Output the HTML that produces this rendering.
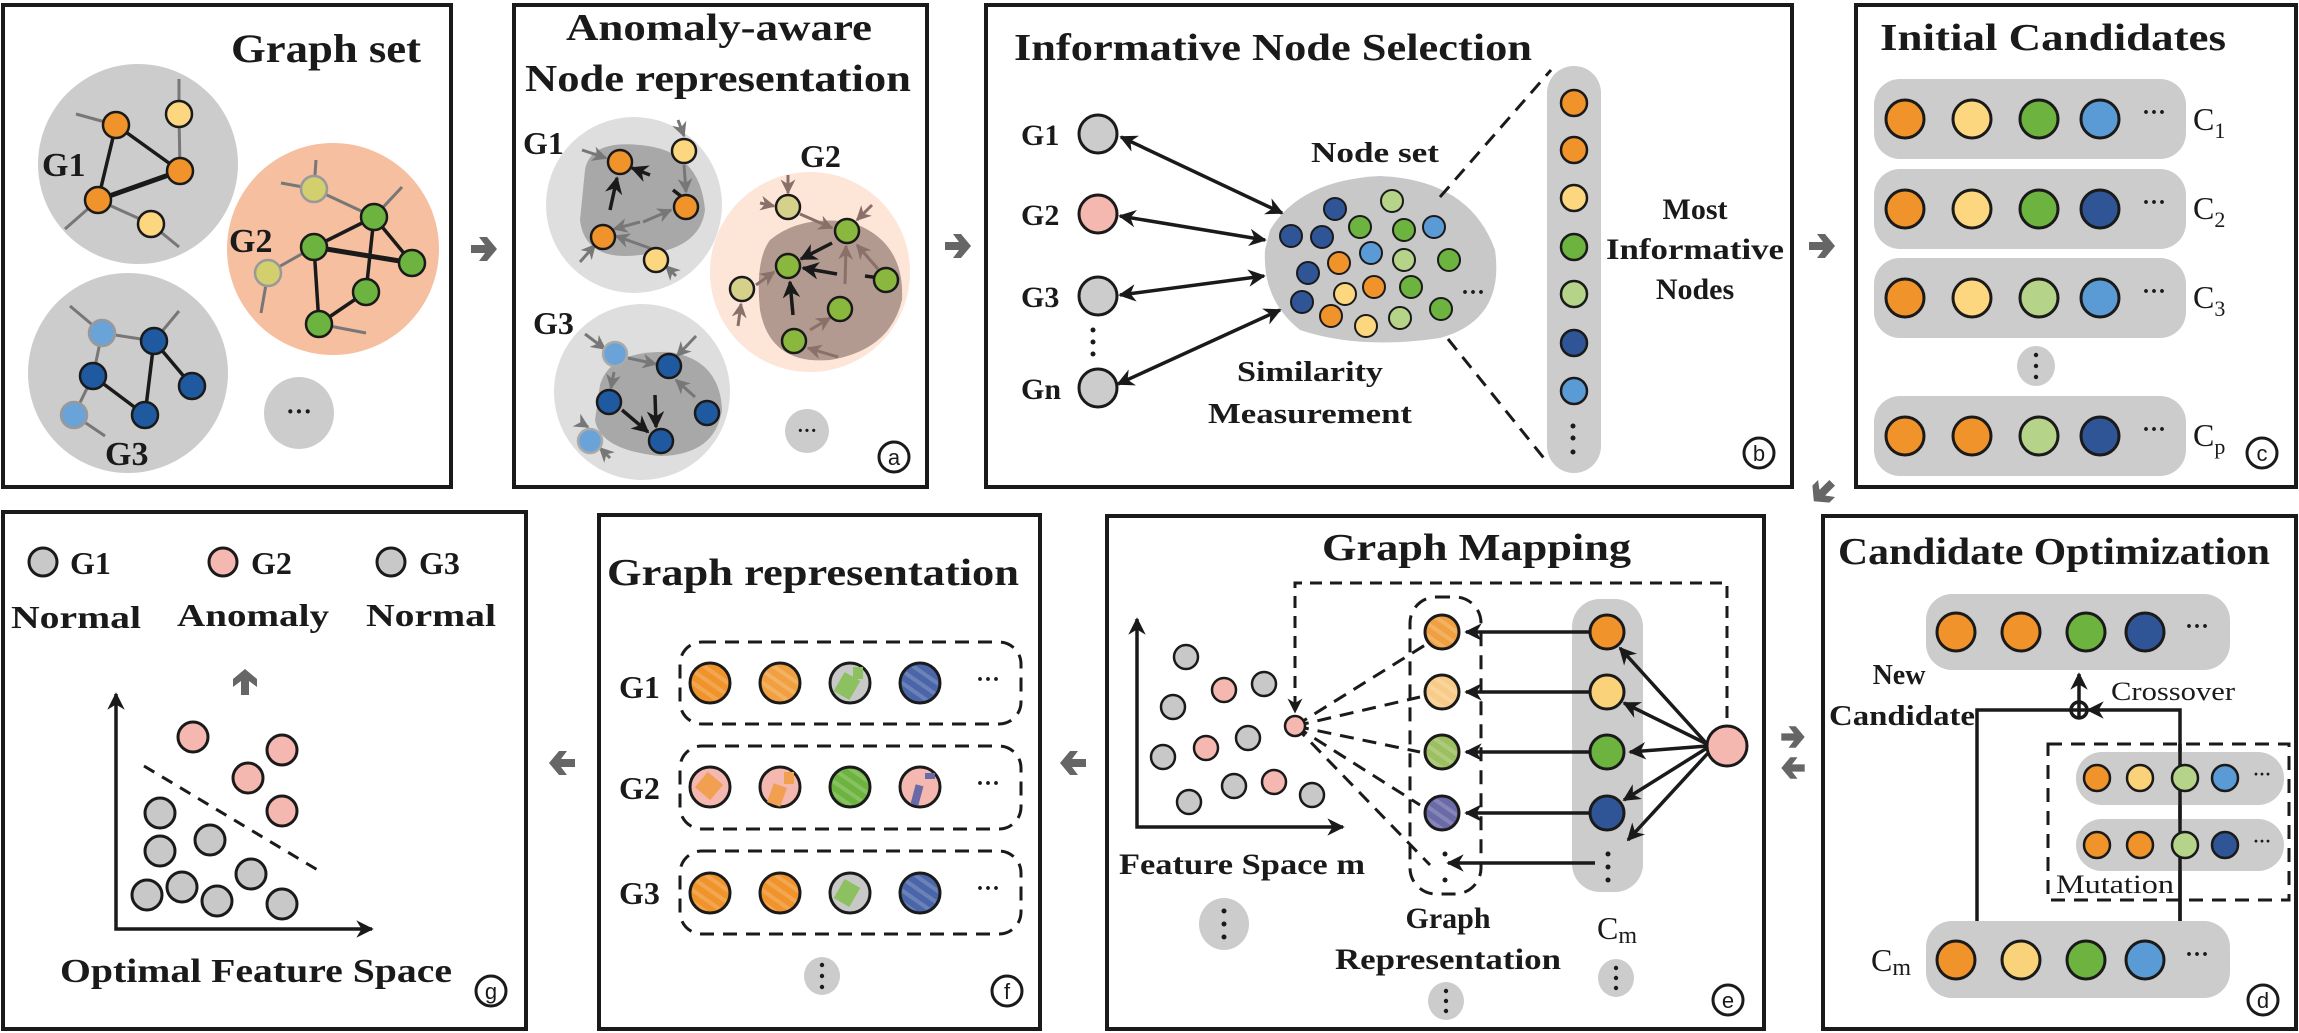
<!DOCTYPE html>
<html><head><meta charset="utf-8"><style>
html,body{margin:0;padding:0;background:#fff;}
svg{display:block;}
text{font-family:"Liberation Serif",serif;font-weight:bold;fill:#1a1a1a;}
</style></head><body>
<svg width="2299" height="1033" viewBox="0 0 2299 1033" xmlns="http://www.w3.org/2000/svg">
<defs>
<marker id="ah" viewBox="0 0 10 10" refX="9" refY="5" markerWidth="5" markerHeight="5" orient="auto-start-reverse"><path d="M0,0 L10,5 L0,10 L3,5Z" fill="#1a1a1a"/></marker>
<marker id="ahg" viewBox="0 0 10 10" refX="9" refY="5" markerWidth="5" markerHeight="5" orient="auto"><path d="M0,0 L10,5 L0,10 L3,5Z" fill="#777"/></marker>
<marker id="ahb" viewBox="0 0 10 10" refX="9" refY="5" markerWidth="5" markerHeight="5" orient="auto"><path d="M0,0 L10,5 L0,10 L3,5Z" fill="#8a7068"/></marker>
<pattern id="hatch" width="10" height="10" patternUnits="userSpaceOnUse" patternTransform="rotate(35)"><rect width="10" height="4" fill="rgba(255,255,255,0.18)"/></pattern>
<path id="garrow" d="M-13,-4 L1,-4 L-5,-12 L3,-12 L13,0 L3,12 L-5,12 L1,4 L-13,4Z" fill="#666"/>
</defs>
<g stroke="#1a1a1a" stroke-width="4" fill="none">
<rect x="3" y="5" width="448" height="482"/>
<rect x="514" y="5" width="413" height="482"/>
<rect x="986" y="5" width="806" height="482"/>
<rect x="1856" y="5" width="440" height="482"/>
<rect x="3" y="512" width="523" height="517"/>
<rect x="599" y="515" width="441" height="514"/>
<rect x="1107" y="516" width="657" height="513"/>
<rect x="1823" y="516" width="473" height="513"/>
</g>
<!-- inter-panel arrows -->
<use href="#garrow" x="484" y="249"/>
<use href="#garrow" x="958" y="246"/>
<use href="#garrow" x="1822" y="246"/>
<use href="#garrow" transform="translate(1823,492) rotate(135)"/>
<use href="#garrow" transform="translate(1793,737) scale(0.9)"/>
<use href="#garrow" transform="translate(1793,768) rotate(180) scale(0.9)"/>
<use href="#garrow" transform="translate(1073,763) rotate(180)"/>
<use href="#garrow" transform="translate(562,763) rotate(180)"/>
<use href="#garrow" transform="translate(245,682) rotate(-90)"/>

<!-- Panel 1 -->
<text x="231" y="62" font-size="40" textLength="190" lengthAdjust="spacingAndGlyphs">Graph set</text>
<circle cx="138" cy="164" r="100" fill="#cbcccb"/>
<circle cx="333" cy="249" r="106" fill="#f5bfa0"/>
<circle cx="128" cy="373" r="100" fill="#cbcccb"/>
<ellipse cx="299" cy="413" rx="35" ry="36" fill="#cbcccb"/>
<text x="299" y="420" font-size="26" text-anchor="middle">···</text>
<g stroke="#777" stroke-width="3">
<line x1="116" y1="125" x2="76" y2="114"/><line x1="179" y1="114" x2="179" y2="79"/><line x1="179" y1="114" x2="180" y2="171"/>
<line x1="98" y1="200" x2="65" y2="229"/><line x1="98" y1="200" x2="151" y2="224"/><line x1="151" y1="224" x2="179" y2="247"/>
<line x1="314" y1="189" x2="374" y2="217"/><line x1="314" y1="189" x2="316" y2="160"/><line x1="314" y1="189" x2="281" y2="183"/>
<line x1="374" y1="217" x2="402" y2="187"/><line x1="268" y1="273" x2="314" y2="247"/><line x1="268" y1="273" x2="261" y2="313"/><line x1="319" y1="324" x2="366" y2="333"/>
<line x1="102" y1="333" x2="154" y2="341"/><line x1="102" y1="333" x2="93" y2="376"/><line x1="93" y1="376" x2="74" y2="415"/>
<line x1="102" y1="333" x2="70" y2="306"/><line x1="154" y1="341" x2="179" y2="311"/><line x1="74" y1="415" x2="105" y2="436"/>
</g>
<g stroke="#1a1a1a" stroke-width="3.5">
<line x1="116" y1="125" x2="98" y2="200"/><line x1="116" y1="125" x2="180" y2="171"/><line x1="98" y1="200" x2="180" y2="171" stroke-width="5"/>
<line x1="374" y1="217" x2="314" y2="247"/><line x1="374" y1="217" x2="412" y2="263"/><line x1="374" y1="217" x2="366" y2="292"/>
<line x1="314" y1="247" x2="412" y2="263" stroke-width="5"/><line x1="314" y1="247" x2="319" y2="324"/><line x1="366" y1="292" x2="319" y2="324"/>
<line x1="154" y1="341" x2="192" y2="386"/><line x1="154" y1="341" x2="145" y2="415"/><line x1="93" y1="376" x2="145" y2="415"/>
</g>
<g stroke="#1a1a1a" stroke-width="2.5">
<circle cx="116" cy="125" r="13" fill="#f0932b"/><circle cx="180" cy="171" r="13" fill="#f0932b"/><circle cx="98" cy="200" r="13" fill="#f0932b"/>
<circle cx="179" cy="114" r="13" fill="#fcd77f"/><circle cx="151" cy="224" r="13" fill="#fcd77f"/>
<circle cx="374" cy="217" r="13" fill="#6db33f"/><circle cx="314" cy="247" r="13" fill="#6db33f"/><circle cx="412" cy="263" r="13" fill="#6db33f"/><circle cx="366" cy="292" r="13" fill="#6db33f"/><circle cx="319" cy="324" r="13" fill="#6db33f"/>
<circle cx="154" cy="341" r="13" fill="#1f5aa0"/><circle cx="93" cy="376" r="13" fill="#1f5aa0"/><circle cx="192" cy="386" r="13" fill="#1f5aa0"/><circle cx="145" cy="415" r="13" fill="#1f5aa0"/>
</g>
<g stroke="#999" stroke-width="2.5">
<circle cx="314" cy="189" r="13" fill="#d4cf6e"/><circle cx="268" cy="273" r="13" fill="#d4cf6e"/>
<circle cx="102" cy="333" r="13" fill="#6aa3d8"/><circle cx="74" cy="415" r="13" fill="#6aa3d8"/>
</g>
<text x="42" y="176" font-size="34">G1</text>
<text x="229" y="252" font-size="34">G2</text>
<text x="105" y="465" font-size="34">G3</text>

<!-- Panel a -->
<text x="719" y="40" font-size="38" text-anchor="middle" textLength="306" lengthAdjust="spacingAndGlyphs">Anomaly-aware</text>
<text x="525" y="91" font-size="38" textLength="386" lengthAdjust="spacingAndGlyphs">Node representation</text>
<circle cx="634" cy="205" r="88" fill="#dedede"/>
<path d="M585,170 Q590,140 640,145 Q700,150 705,210 Q700,250 640,255 Q585,262 580,220Z" fill="#a8a8a8"/>
<circle cx="810" cy="272" r="100" fill="#fde5d8"/>
<path d="M770,240 Q800,215 850,222 Q905,240 902,300 Q890,350 830,360 Q770,365 760,310 Q755,260 770,240Z" fill="#b29a90"/>
<circle cx="642" cy="392" r="88" fill="#dedede"/>
<path d="M600,385 Q610,350 670,352 Q720,360 722,410 Q715,455 660,456 Q600,450 595,420Z" fill="#a8a8a8"/>
<g stroke="#777" stroke-width="3" marker-end="url(#ahg)">
<line x1="582" y1="150" x2="606" y2="158"/><line x1="678" y1="120" x2="684" y2="136"/><line x1="684" y1="165" x2="686" y2="192"/>
<line x1="643" y1="222" x2="671" y2="210"/><line x1="655" y1="250" x2="616" y2="236"/><line x1="640" y1="222" x2="614" y2="229"/>
<line x1="580" y1="262" x2="595" y2="245"/><line x1="676" y1="276" x2="666" y2="266"/>
<line x1="585" y1="334" x2="605" y2="349"/><line x1="696" y1="336" x2="677" y2="356"/><line x1="628" y1="358" x2="656" y2="364"/>
<line x1="614" y1="372" x2="611" y2="388"/><line x1="695" y1="397" x2="676" y2="380"/><line x1="583" y1="424" x2="588" y2="427"/><line x1="610" y1="458" x2="600" y2="448"/>
</g>
<g stroke="#8a7068" stroke-width="3" marker-end="url(#ahb)">
<line x1="788" y1="175" x2="788" y2="193"/><line x1="760" y1="203" x2="774" y2="206"/><line x1="800" y1="214" x2="832" y2="228"/>
<line x1="872" y1="205" x2="857" y2="220"/><line x1="845" y1="284" x2="846" y2="246"/><line x1="878" y1="269" x2="857" y2="245"/>
<line x1="756" y1="285" x2="774" y2="272"/><line x1="738" y1="326" x2="741" y2="304"/><line x1="810" y1="330" x2="830" y2="318"/><line x1="838" y1="357" x2="808" y2="348"/>
</g>
<g stroke="#1a1a1a" stroke-width="3.5" marker-end="url(#ahb)">
<line x1="610" y1="210" x2="617" y2="178" marker-end="url(#ah)"/><line x1="650" y1="175" x2="632" y2="168" marker-end="url(#ah)"/>
<line x1="832" y1="243" x2="801" y2="259" marker-end="url(#ah)"/><line x1="837" y1="274" x2="803" y2="268" marker-end="url(#ah)"/><line x1="793" y1="315" x2="790" y2="282" marker-end="url(#ah)"/>
<line x1="655" y1="395" x2="656" y2="427" marker-end="url(#ah)"/><line x1="622" y1="410" x2="648" y2="432" marker-end="url(#ah)"/>
</g>
<line x1="673" y1="190" x2="686" y2="200" stroke="#1a1a1a" stroke-width="3.5"/>
<line x1="865" y1="276" x2="880" y2="278" stroke="#1a1a1a" stroke-width="3.5"/>
<g stroke="#1a1a1a" stroke-width="2.5">
<circle cx="620" cy="162" r="12" fill="#f0932b"/><circle cx="686" cy="207" r="12" fill="#f0932b"/><circle cx="603" cy="237" r="12" fill="#f0932b"/>
<circle cx="684" cy="151" r="12" fill="#fcd77f"/><circle cx="656" cy="260" r="12" fill="#fcd77f"/>
<circle cx="847" cy="231" r="12" fill="#8ab83e"/><circle cx="788" cy="266" r="12" fill="#8ab83e"/><circle cx="886" cy="280" r="12" fill="#8ab83e"/><circle cx="840" cy="309" r="12" fill="#8ab83e"/><circle cx="794" cy="341" r="12" fill="#8ab83e"/>
<circle cx="788" cy="207" r="12" fill="#d6d18a"/><circle cx="742" cy="289" r="12" fill="#d6d18a"/>
<circle cx="669" cy="366" r="12" fill="#1f5aa0"/><circle cx="609" cy="402" r="12" fill="#1f5aa0"/><circle cx="707" cy="413" r="12" fill="#1f5aa0"/><circle cx="661" cy="441" r="12" fill="#1f5aa0"/>
</g>
<g stroke="#aaa" stroke-width="2.5"><circle cx="615" cy="354" r="12" fill="#6aa3d8"/><circle cx="590" cy="441" r="12" fill="#6aa3d8"/></g>
<text x="523" y="154" font-size="32">G1</text>
<text x="800" y="167" font-size="32">G2</text>
<text x="533" y="334" font-size="32">G3</text>
<circle cx="807" cy="431" r="22" fill="#cbcccb"/>
<text x="807" y="437" font-size="20" text-anchor="middle">···</text>
<circle cx="894" cy="457" r="15" fill="none" stroke="#1a1a1a" stroke-width="3"/>
<text x="894" y="465" font-size="22" text-anchor="middle" font-weight="normal" style="font-family:'Liberation Sans',sans-serif;font-weight:normal">a</text>

<!-- Panel b -->
<text x="1014" y="60" font-size="38" textLength="518" lengthAdjust="spacingAndGlyphs">Informative Node Selection</text>
<g stroke="#1a1a1a" stroke-width="3">
<circle cx="1098" cy="134" r="19" fill="#cbcccb"/><circle cx="1098" cy="214" r="19" fill="#f4b8b0"/>
<circle cx="1098" cy="296" r="19" fill="#cbcccb"/><circle cx="1098" cy="388" r="19" fill="#cbcccb"/>
</g>
<g fill="#1a1a1a"><circle cx="1093" cy="330" r="2.5"/><circle cx="1093" cy="342" r="2.5"/><circle cx="1093" cy="354" r="2.5"/></g>
<text x="1021" y="145" font-size="30">G1</text><text x="1021" y="225" font-size="30">G2</text>
<text x="1021" y="307" font-size="30">G3</text><text x="1021" y="399" font-size="30">Gn</text>
<path d="M1270,230 Q1300,180 1380,176 Q1470,180 1495,250 Q1505,320 1440,338 Q1360,350 1300,330 Q1262,300 1265,250Z" fill="#c8c8c8"/>
<g stroke="#1a1a1a" stroke-width="3.5" marker-start="url(#ah)" marker-end="url(#ah)">
<line x1="1121" y1="137" x2="1282" y2="213"/><line x1="1120" y1="216" x2="1265" y2="240"/>
<line x1="1120" y1="295" x2="1264" y2="276"/><line x1="1118" y1="384" x2="1280" y2="310"/>
</g>
<g stroke="#1a1a1a" stroke-width="3" stroke-dasharray="14,9">
<line x1="1440" y1="197" x2="1551" y2="70"/><line x1="1448" y1="339" x2="1547" y2="462"/>
</g>
<g stroke="#1a1a1a" stroke-width="2">
<circle cx="1335" cy="209" r="11" fill="#2f5597"/><circle cx="1392" cy="201" r="11" fill="#b5d48a"/>
<circle cx="1291" cy="236" r="11" fill="#2f5597"/><circle cx="1322" cy="237" r="11" fill="#2f5597"/>
<circle cx="1360" cy="227" r="11" fill="#6db33f"/><circle cx="1404" cy="230" r="11" fill="#6db33f"/>
<circle cx="1434" cy="227" r="11" fill="#5b9bd5"/><circle cx="1371" cy="253" r="11" fill="#5b9bd5"/>
<circle cx="1404" cy="260" r="11" fill="#b5d48a"/><circle cx="1449" cy="260" r="11" fill="#6db33f"/>
<circle cx="1308" cy="273" r="11" fill="#2f5597"/><circle cx="1339" cy="263" r="11" fill="#f0932b"/>
<circle cx="1345" cy="294" r="11" fill="#fcd77f"/><circle cx="1374" cy="287" r="11" fill="#f0932b"/>
<circle cx="1411" cy="287" r="11" fill="#6db33f"/><circle cx="1302" cy="302" r="11" fill="#2f5597"/>
<circle cx="1331" cy="316" r="11" fill="#f0932b"/><circle cx="1366" cy="326" r="11" fill="#fcd77f"/>
<circle cx="1400" cy="318" r="11" fill="#b5d48a"/><circle cx="1441" cy="309" r="11" fill="#6db33f"/>
</g>
<text x="1473" y="300" font-size="24" text-anchor="middle">···</text>
<text x="1375" y="162" font-size="28" text-anchor="middle" textLength="128" lengthAdjust="spacingAndGlyphs">Node set</text>
<text x="1310" y="381" font-size="28" text-anchor="middle" textLength="146" lengthAdjust="spacingAndGlyphs">Similarity</text>
<text x="1310" y="423" font-size="28" text-anchor="middle" textLength="204" lengthAdjust="spacingAndGlyphs">Measurement</text>
<rect x="1547" y="66" width="54" height="407" rx="27" fill="#cbcccb"/>
<g stroke="#1a1a1a" stroke-width="2.5">
<circle cx="1574" cy="103" r="13" fill="#f0932b"/><circle cx="1574" cy="150" r="13" fill="#f0932b"/>
<circle cx="1574" cy="198" r="13" fill="#fcd77f"/><circle cx="1574" cy="247" r="13" fill="#6db33f"/>
<circle cx="1574" cy="294" r="13" fill="#b5d48a"/><circle cx="1574" cy="343" r="13" fill="#2f5597"/>
<circle cx="1574" cy="391" r="13" fill="#5b9bd5"/>
</g>
<g fill="#1a1a1a"><circle cx="1573" cy="426" r="2.5"/><circle cx="1573" cy="438" r="2.5"/><circle cx="1573" cy="452" r="2.5"/></g>
<text x="1695" y="219" font-size="30" text-anchor="middle">Most</text>
<text x="1695" y="259" font-size="30" text-anchor="middle" textLength="178" lengthAdjust="spacingAndGlyphs">Informative</text>
<text x="1695" y="299" font-size="30" text-anchor="middle">Nodes</text>
<circle cx="1759" cy="453" r="15" fill="none" stroke="#1a1a1a" stroke-width="3"/>
<text x="1759" y="461" font-size="22" text-anchor="middle" style="font-family:'Liberation Sans',sans-serif;font-weight:normal">b</text>

<!-- Panel c -->
<text x="1880" y="50" font-size="38" textLength="346" lengthAdjust="spacingAndGlyphs">Initial Candidates</text>
<g fill="#cbcccb">
<rect x="1874" y="79" width="312" height="80" rx="26"/><rect x="1874" y="169" width="312" height="80" rx="26"/>
<rect x="1874" y="258" width="312" height="80" rx="26"/><rect x="1874" y="396" width="312" height="80" rx="26"/>
</g>
<g stroke="#1a1a1a" stroke-width="3">
<circle cx="1905" cy="119" r="19" fill="#f0932b"/><circle cx="1972" cy="119" r="19" fill="#fcd77f"/><circle cx="2039" cy="119" r="19" fill="#6db33f"/><circle cx="2100" cy="119" r="19" fill="#5b9bd5"/>
<circle cx="1905" cy="209" r="19" fill="#f0932b"/><circle cx="1972" cy="209" r="19" fill="#fcd77f"/><circle cx="2039" cy="209" r="19" fill="#6db33f"/><circle cx="2100" cy="209" r="19" fill="#2f5597"/>
<circle cx="1905" cy="298" r="19" fill="#f0932b"/><circle cx="1972" cy="298" r="19" fill="#fcd77f"/><circle cx="2039" cy="298" r="19" fill="#b5d48a"/><circle cx="2100" cy="298" r="19" fill="#5b9bd5"/>
<circle cx="1905" cy="436" r="19" fill="#f0932b"/><circle cx="1972" cy="436" r="19" fill="#f0932b"/><circle cx="2039" cy="436" r="19" fill="#b5d48a"/><circle cx="2100" cy="436" r="19" fill="#2f5597"/>
</g>
<g font-size="24" text-anchor="middle"><text x="2154" y="120">···</text><text x="2154" y="210">···</text><text x="2154" y="299">···</text><text x="2154" y="437">···</text></g>
<g font-size="32" font-weight="normal" style="font-weight:normal">
<text x="2193" y="130" style="font-weight:normal">C<tspan font-size="22" dy="8">1</tspan></text>
<text x="2193" y="219" style="font-weight:normal">C<tspan font-size="22" dy="8">2</tspan></text>
<text x="2193" y="308" style="font-weight:normal">C<tspan font-size="22" dy="8">3</tspan></text>
<text x="2193" y="446" style="font-weight:normal">C<tspan font-size="22" dy="8">p</tspan></text>
</g>
<ellipse cx="2036" cy="366" rx="19" ry="20" fill="#cbcccb"/>
<g fill="#1a1a1a"><circle cx="2036" cy="355" r="2.2"/><circle cx="2036" cy="366" r="2.2"/><circle cx="2036" cy="377" r="2.2"/></g>
<circle cx="2262" cy="453" r="15" fill="none" stroke="#1a1a1a" stroke-width="3"/>
<text x="2262" y="461" font-size="22" text-anchor="middle" style="font-family:'Liberation Sans',sans-serif;font-weight:normal">c</text>

<!-- Panel g -->
<g stroke="#1a1a1a" stroke-width="3">
<circle cx="43" cy="562" r="14" fill="#c8c8c8"/><circle cx="223" cy="562" r="14" fill="#f4b8b0"/><circle cx="391" cy="562" r="14" fill="#c8c8c8"/>
</g>
<text x="70" y="574" font-size="32">G1</text><text x="251" y="574" font-size="32">G2</text><text x="419" y="574" font-size="32">G3</text>
<text x="11" y="628" font-size="32" textLength="130" lengthAdjust="spacingAndGlyphs">Normal</text>
<text x="177" y="626" font-size="32" textLength="152" lengthAdjust="spacingAndGlyphs">Anomaly</text>
<text x="366" y="626" font-size="32" textLength="130" lengthAdjust="spacingAndGlyphs">Normal</text>
<polyline points="116,694 116,929 372,929" fill="none" stroke="#1a1a1a" stroke-width="3.5" marker-start="url(#ah)" marker-end="url(#ah)"/>
<line x1="144" y1="766" x2="321" y2="872" stroke="#1a1a1a" stroke-width="3" stroke-dasharray="12,9"/>
<g stroke="#1a1a1a" stroke-width="3">
<circle cx="193" cy="737" r="15" fill="#f4b8b0"/><circle cx="282" cy="750" r="15" fill="#f4b8b0"/><circle cx="248" cy="778" r="15" fill="#f4b8b0"/><circle cx="282" cy="811" r="15" fill="#f4b8b0"/>
<circle cx="160" cy="813" r="15" fill="#c8c8c8"/><circle cx="210" cy="840" r="15" fill="#c8c8c8"/><circle cx="160" cy="851" r="15" fill="#c8c8c8"/><circle cx="251" cy="874" r="15" fill="#c8c8c8"/>
<circle cx="182" cy="887" r="15" fill="#c8c8c8"/><circle cx="147" cy="895" r="15" fill="#c8c8c8"/><circle cx="217" cy="901" r="15" fill="#c8c8c8"/><circle cx="282" cy="904" r="15" fill="#c8c8c8"/>
</g>
<text x="60" y="982" font-size="34" textLength="392" lengthAdjust="spacingAndGlyphs">Optimal Feature Space</text>
<circle cx="491" cy="991" r="15" fill="none" stroke="#1a1a1a" stroke-width="3"/>
<text x="491" y="999" font-size="22" text-anchor="middle" style="font-family:'Liberation Sans',sans-serif;font-weight:normal">g</text>

<!-- Panel f -->
<text x="607" y="585" font-size="38" textLength="412" lengthAdjust="spacingAndGlyphs">Graph representation</text>
<g fill="none" stroke="#1a1a1a" stroke-width="3" stroke-dasharray="14,9">
<rect x="680" y="642" width="341" height="82" rx="22"/><rect x="680" y="746" width="341" height="83" rx="22"/><rect x="680" y="851" width="341" height="83" rx="22"/>
</g>
<g stroke="#1a1a1a" stroke-width="3">
<circle cx="710" cy="683" r="20" fill="#f0932b"/><circle cx="780" cy="683" r="20" fill="#f0a040"/><circle cx="850" cy="683" r="20" fill="#c8c8c8"/><circle cx="920" cy="683" r="20" fill="#4a66a8"/>
<circle cx="710" cy="787" r="20" fill="#f4b8b0"/><circle cx="780" cy="787" r="20" fill="#f4b8b0"/><circle cx="850" cy="787" r="20" fill="#6db33f"/><circle cx="920" cy="787" r="20" fill="#f4b8b0"/>
<circle cx="710" cy="893" r="20" fill="#f0932b"/><circle cx="780" cy="893" r="20" fill="#f0932b"/><circle cx="850" cy="893" r="20" fill="#c8c8c8"/><circle cx="920" cy="893" r="20" fill="#4a66a8"/>
</g>
<g>
<rect x="838" y="675" width="18" height="22" fill="#8cc060" transform="rotate(30 847 686)"/><rect x="853" y="667" width="10" height="12" fill="#8cc060"/>
<rect x="838" y="882" width="18" height="22" fill="#8cc060" transform="rotate(30 847 893)"/>
<rect x="699" y="776" width="20" height="20" fill="#f0a050" transform="rotate(40 709 786)"/>
<rect x="770" y="785" width="14" height="20" fill="#f0a050" transform="rotate(20 777 795)"/><rect x="784" y="772" width="10" height="12" fill="#f0a050"/>
<rect x="913" y="785" width="8" height="20" fill="#6a6aa8" transform="rotate(15 917 795)"/><rect x="925" y="773" width="10" height="6" fill="#6a6aa8"/>
</g>
<g fill="url(#hatch)">
<circle cx="710" cy="683" r="18"/><circle cx="780" cy="683" r="18"/><circle cx="920" cy="683" r="18"/><circle cx="850" cy="787" r="18"/>
<circle cx="710" cy="893" r="18"/><circle cx="780" cy="893" r="18"/><circle cx="920" cy="893" r="18"/>
</g>
<g font-size="24" text-anchor="middle"><text x="988" y="687">···</text><text x="988" y="791">···</text><text x="988" y="896">···</text></g>
<text x="619" y="698" font-size="32">G1</text><text x="619" y="799" font-size="32">G2</text><text x="619" y="904" font-size="32">G3</text>
<ellipse cx="822" cy="976" rx="18" ry="19" fill="#cbcccb"/>
<g fill="#1a1a1a"><circle cx="822" cy="965" r="2.2"/><circle cx="822" cy="976" r="2.2"/><circle cx="822" cy="987" r="2.2"/></g>
<circle cx="1007" cy="991" r="15" fill="none" stroke="#1a1a1a" stroke-width="3"/>
<text x="1007" y="999" font-size="22" text-anchor="middle" style="font-family:'Liberation Sans',sans-serif;font-weight:normal">f</text>

<!-- Panel e -->
<text x="1322" y="560" font-size="38" textLength="309" lengthAdjust="spacingAndGlyphs">Graph Mapping</text>
<polyline points="1137,619 1137,827 1343,827" fill="none" stroke="#1a1a1a" stroke-width="3.5" marker-start="url(#ah)" marker-end="url(#ah)"/>
<g stroke="#1a1a1a" stroke-width="2.5">
<circle cx="1186" cy="657" r="12" fill="#c8c8c8"/><circle cx="1264" cy="684" r="12" fill="#c8c8c8"/><circle cx="1173" cy="707" r="12" fill="#c8c8c8"/><circle cx="1248" cy="738" r="12" fill="#c8c8c8"/>
<circle cx="1163" cy="757" r="12" fill="#c8c8c8"/><circle cx="1234" cy="786" r="12" fill="#c8c8c8"/><circle cx="1189" cy="802" r="12" fill="#c8c8c8"/><circle cx="1312" cy="795" r="12" fill="#c8c8c8"/>
<circle cx="1224" cy="690" r="12" fill="#f4b8b0"/><circle cx="1206" cy="748" r="12" fill="#f4b8b0"/><circle cx="1274" cy="782" r="12" fill="#f4b8b0"/>
</g>
<rect x="1572" y="599" width="71" height="293" rx="28" fill="#cbcccb"/>
<rect x="1410" y="597" width="71" height="297" rx="26" fill="none" stroke="#1a1a1a" stroke-width="3" stroke-dasharray="14,9"/>
<polyline points="1727,718 1727,583 1295,583 1295,712" fill="none" stroke="#1a1a1a" stroke-width="3" stroke-dasharray="12,8" marker-end="url(#ah)"/>
<g stroke="#1a1a1a" stroke-width="3" stroke-dasharray="14,9">
<line x1="1295" y1="726" x2="1430" y2="642"/><line x1="1295" y1="726" x2="1420" y2="697"/><line x1="1295" y1="726" x2="1420" y2="752"/>
<line x1="1295" y1="726" x2="1420" y2="805"/><line x1="1295" y1="726" x2="1430" y2="865"/>
</g>
<circle cx="1295" cy="726" r="10" fill="#f4b8b0" stroke="#1a1a1a" stroke-width="2.5"/>
<g stroke="#1a1a1a" stroke-width="3.5" marker-end="url(#ah)">
<line x1="1590" y1="632" x2="1466" y2="632"/><line x1="1590" y1="692" x2="1466" y2="692"/><line x1="1590" y1="752" x2="1466" y2="752"/>
<line x1="1590" y1="813" x2="1466" y2="813"/><line x1="1595" y1="863" x2="1448" y2="863"/>
<line x1="1707" y1="744" x2="1620" y2="648"/><line x1="1707" y1="744" x2="1624" y2="703"/><line x1="1707" y1="746" x2="1630" y2="752"/>
<line x1="1707" y1="748" x2="1624" y2="800"/><line x1="1709" y1="752" x2="1628" y2="840"/>
</g>
<g stroke="#1a1a1a" stroke-width="3">
<circle cx="1607" cy="632" r="17" fill="#f0932b"/><circle cx="1607" cy="692" r="17" fill="#fad27a"/><circle cx="1607" cy="752" r="17" fill="#6db33f"/><circle cx="1607" cy="813" r="17" fill="#2f5597"/>
<circle cx="1442" cy="632" r="17" fill="#f0a040"/><circle cx="1442" cy="692" r="17" fill="#f8cc88"/><circle cx="1442" cy="752" r="17" fill="#9cc060"/><circle cx="1442" cy="813" r="17" fill="#6a6aa8"/>
<circle cx="1727" cy="746" r="20" fill="#f4b8b0"/>
</g>
<g fill="url(#hatch)"><circle cx="1442" cy="632" r="15"/><circle cx="1442" cy="692" r="15"/><circle cx="1442" cy="752" r="15"/><circle cx="1442" cy="813" r="15"/></g>
<g fill="#1a1a1a"><circle cx="1608" cy="854" r="2.5"/><circle cx="1608" cy="867" r="2.5"/><circle cx="1608" cy="880" r="2.5"/>
<circle cx="1445" cy="854" r="2.5"/><circle cx="1445" cy="880" r="2.5"/></g>
<text x="1119" y="874" font-size="30" textLength="246" lengthAdjust="spacingAndGlyphs">Feature Space m</text>
<ellipse cx="1224" cy="924" rx="25" ry="26" fill="#cbcccb"/>
<g fill="#1a1a1a"><circle cx="1224" cy="911" r="2.5"/><circle cx="1224" cy="924" r="2.5"/><circle cx="1224" cy="937" r="2.5"/></g>
<text x="1448" y="928" font-size="30" text-anchor="middle">Graph</text>
<text x="1448" y="969" font-size="30" text-anchor="middle" textLength="226" lengthAdjust="spacingAndGlyphs">Representation</text>
<text x="1597" y="939" font-size="32" style="font-weight:normal">C<tspan font-size="24" dy="4">m</tspan></text>
<ellipse cx="1446" cy="1001" rx="18" ry="19" fill="#cbcccb"/>
<g fill="#1a1a1a"><circle cx="1446" cy="991" r="2.2"/><circle cx="1446" cy="1001" r="2.2"/><circle cx="1446" cy="1011" r="2.2"/></g>
<ellipse cx="1616" cy="978" rx="18" ry="19" fill="#cbcccb"/>
<g fill="#1a1a1a"><circle cx="1616" cy="968" r="2.2"/><circle cx="1616" cy="978" r="2.2"/><circle cx="1616" cy="988" r="2.2"/></g>
<circle cx="1728" cy="1000" r="15" fill="none" stroke="#1a1a1a" stroke-width="3"/>
<text x="1728" y="1008" font-size="22" text-anchor="middle" style="font-family:'Liberation Sans',sans-serif;font-weight:normal">e</text>

<!-- Panel d -->
<text x="1838" y="564" font-size="38" textLength="432" lengthAdjust="spacingAndGlyphs">Candidate Optimization</text>
<rect x="1926" y="594" width="304" height="76" rx="26" fill="#cbcccb"/>
<rect x="1926" y="921" width="304" height="77" rx="26" fill="#cbcccb"/>
<g fill="none" stroke="#1a1a1a" stroke-width="3.5">
<polyline points="1977,921 1977,710 2070,710"/>
<polyline points="2180,921 2180,710 2088,710" marker-end="url(#ah)"/>
<line x1="2079" y1="701" x2="2079" y2="674" marker-end="url(#ah)"/>
<circle cx="2079" cy="710" r="8"/><line x1="2071" y1="710" x2="2087" y2="710"/><line x1="2079" y1="702" x2="2079" y2="718"/>
</g>
<rect x="2048" y="744" width="241" height="156" fill="none" stroke="#1a1a1a" stroke-width="3" stroke-dasharray="14,9"/>
<rect x="2076" y="752" width="208" height="53" rx="26" fill="#cbcccb"/>
<rect x="2076" y="819" width="208" height="52" rx="26" fill="#cbcccb"/>
<line x1="2180" y1="744" x2="2180" y2="921" stroke="#1a1a1a" stroke-width="3.5"/>
<g stroke="#1a1a1a" stroke-width="2.5">
<circle cx="2097" cy="778" r="13" fill="#f0932b"/><circle cx="2140" cy="778" r="13" fill="#fad27a"/><circle cx="2185" cy="778" r="13" fill="#b5d48a"/><circle cx="2225" cy="778" r="13" fill="#5b9bd5"/>
<circle cx="2097" cy="845" r="13" fill="#f0932b"/><circle cx="2140" cy="845" r="13" fill="#f0932b"/><circle cx="2185" cy="845" r="13" fill="#b5d48a"/><circle cx="2225" cy="845" r="13" fill="#2f5597"/>
</g>
<g stroke="#1a1a1a" stroke-width="3">
<circle cx="1956" cy="632" r="19" fill="#f0932b"/><circle cx="2021" cy="632" r="19" fill="#f0932b"/><circle cx="2086" cy="632" r="19" fill="#6db33f"/><circle cx="2145" cy="632" r="19" fill="#2f5597"/>
<circle cx="1956" cy="960" r="19" fill="#f0932b"/><circle cx="2021" cy="960" r="19" fill="#fad27a"/><circle cx="2086" cy="960" r="19" fill="#6db33f"/><circle cx="2145" cy="960" r="19" fill="#5b9bd5"/>
</g>
<g text-anchor="middle"><text x="2197" y="634" font-size="24">···</text><text x="2197" y="962" font-size="24">···</text>
<text x="2262" y="780" font-size="18">···</text><text x="2262" y="847" font-size="18">···</text></g>
<text x="1899" y="684" font-size="28" text-anchor="middle">New</text>
<text x="1829" y="725" font-size="28" textLength="146" lengthAdjust="spacingAndGlyphs">Candidate</text>
<text x="2111" y="700" font-size="26" textLength="124" lengthAdjust="spacingAndGlyphs" style="font-weight:normal">Crossover</text>
<text x="2056" y="893" font-size="26" textLength="118" lengthAdjust="spacingAndGlyphs" style="font-weight:normal">Mutation</text>
<text x="1871" y="971" font-size="32" style="font-weight:normal">C<tspan font-size="24" dy="4">m</tspan></text>
<circle cx="2263" cy="1000" r="15" fill="none" stroke="#1a1a1a" stroke-width="3"/>
<text x="2263" y="1008" font-size="22" text-anchor="middle" style="font-family:'Liberation Sans',sans-serif;font-weight:normal">d</text>
</svg>
</body></html>
